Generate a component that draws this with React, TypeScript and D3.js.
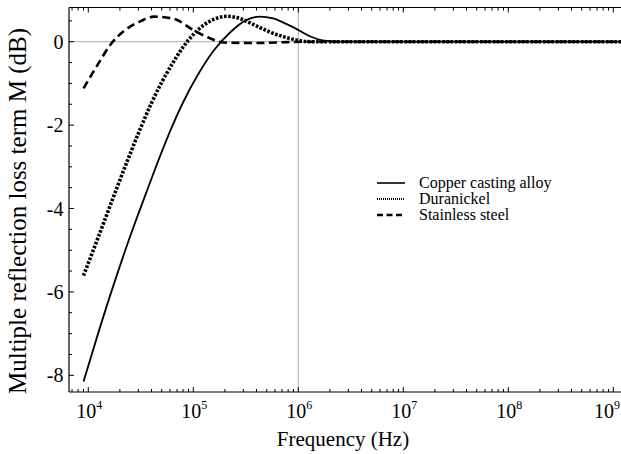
import { useEffect, useRef } from "react";
import * as d3 from "d3";

// frequencies in Hz, loss term in dB
const copperFreq = [9.0e3, 1.26e4, 1.78e4, 2.51e4, 3.55e4, 4.47e4, 6.03e4, 7.94e4, 1.12e5, 1.58e5, 2.24e5, 3.16e5, 4.27e5, 5.75e5, 7.76e5, 1.0e6, 1.29e6, 1.7e6, 2.5e6, 1.2e9];
const copperDb = [-8.15, -6.94, -5.76, -4.66, -3.63, -2.96, -2.14, -1.47, -0.77, -0.2, 0.22, 0.51, 0.6, 0.56, 0.42, 0.28, 0.13, 0.03, 0, 0];

const duraFreq = [9.0e3, 1.26e4, 1.78e4, 2.51e4, 3.16e4, 3.98e4, 5.01e4, 6.31e4, 7.94e4, 1.0e5, 1.26e5, 1.58e5, 2.09e5, 2.82e5, 3.55e5, 4.47e5, 5.62e5, 7.24e5, 9.55e5, 1.32e6, 1.2e9];
const duraDb = [-5.61, -4.65, -3.65, -2.68, -2.06, -1.48, -0.97, -0.53, -0.14, 0.17, 0.4, 0.54, 0.61, 0.55, 0.44, 0.32, 0.21, 0.12, 0.04, 0, 0];

const steelFreq = [9.0e3, 1.25e4, 1.65e4, 2.25e4, 3.2e4, 4.2e4, 6.5e4, 1.0e5, 1.45e5, 1.95e5, 4.0e5, 8.0e5, 1.2e6, 1.2e9];
const steelDb = [-1.12, -0.52, -0.05, 0.28, 0.5, 0.6, 0.55, 0.28, 0.08, -0.02, -0.03, -0.01, 0, 0];

const seriesNames = ["Copper casting alloy", "Duranickel", "Stainless steel"];
const yTickLabels = [0, -2, -4, -6, -8];
const xDecades = [4, 5, 6, 7, 8, 9];

const font = "Liberation Serif, Times New Roman, DejaVu Serif, serif";

const App = () => {
  const svgRef = useRef<SVGSVGElement>(null);

  useEffect(() => {
    const svg = d3.select(svgRef.current);
    svg.selectAll("*").remove();

    const left = 69, right = 621, top = 7.5, bottom = 392;

    const x = d3.scaleLog().domain([Math.pow(10, 3.8162), Math.pow(10, 9.0733)]).range([left, right]);
    const y = d3.scaleLinear().domain([-8.4, 0.82]).range([bottom, top]);

    svg.append("rect").attr("width", 621).attr("height", 454).attr("fill", "#fff");

    svg.append("clipPath").attr("id", "plot-clip")
      .append("rect").attr("x", left).attr("y", top).attr("width", right - left).attr("height", bottom - top);

    // grid lines at 0 dB and 1 MHz
    svg.append("line")
      .attr("x1", left).attr("x2", right).attr("y1", y(0)).attr("y2", y(0))
      .attr("stroke", "#aaa").attr("stroke-width", 1);
    svg.append("line")
      .attr("x1", x(1e6)).attr("x2", x(1e6)).attr("y1", top).attr("y2", bottom)
      .attr("stroke", "#aaa").attr("stroke-width", 1);

    const line = d3.line<[number, number]>()
      .x((d) => x(d[0]))
      .y((d) => y(d[1]))
      .curve(d3.curveMonotoneX);

    const series = [
      { f: copperFreq, v: copperDb, width: 1.8, dash: null },
      { f: steelFreq, v: steelDb, width: 2.6, dash: "8,4.5" },
      { f: duraFreq, v: duraDb, width: 3.6, dash: "2.6,1.6" },
    ];

    const g = svg.append("g").attr("clip-path", "url(#plot-clip)");
    series.forEach((s) => {
      const pts = s.f.map((f, i) => [f, s.v[i]] as [number, number]);
      g.append("path")
        .attr("d", line(pts))
        .attr("fill", "none")
        .attr("stroke", "#000")
        .attr("stroke-width", s.width)
        .attr("stroke-dasharray", s.dash);
    });

    // frame
    const axisColor = "#000";
    svg.append("line").attr("x1", left).attr("x2", left).attr("y1", top).attr("y2", bottom)
      .attr("stroke", axisColor).attr("stroke-width", 1.2);
    svg.append("line").attr("x1", left).attr("x2", right).attr("y1", bottom).attr("y2", bottom)
      .attr("stroke", axisColor).attr("stroke-width", 1.2);
    svg.append("line").attr("x1", left).attr("x2", right).attr("y1", top).attr("y2", top)
      .attr("stroke", axisColor).attr("stroke-width", 1.2);

    // x ticks (log minor ticks), inward on bottom and top
    const xt = x.ticks();
    const isMajor = (v: number) => Math.abs(Math.log10(v) - Math.round(Math.log10(v))) < 1e-6;
    xt.forEach((v) => {
      const len = isMajor(v) ? 5 : 3;
      svg.append("line").attr("x1", x(v)).attr("x2", x(v)).attr("y1", bottom).attr("y2", bottom - len)
        .attr("stroke", axisColor).attr("stroke-width", 1);
      svg.append("line").attr("x1", x(v)).attr("x2", x(v)).attr("y1", top).attr("y2", top + len)
        .attr("stroke", axisColor).attr("stroke-width", 1);
    });

    // y ticks every 0.5 dB, inward
    y.ticks(20).forEach((v) => {
      const len = Number.isInteger(v) && v % 2 === 0 ? 5 : 3;
      svg.append("line").attr("x1", left).attr("x2", left + len).attr("y1", y(v)).attr("y2", y(v))
        .attr("stroke", axisColor).attr("stroke-width", 1);
    });

    // y tick labels
    svg.append("g").selectAll("text").data(yTickLabels).enter().append("text")
      .attr("x", left - 5.5)
      .attr("y", (d) => y(d) + 7)
      .attr("text-anchor", "end")
      .attr("font-family", font)
      .attr("font-size", 20)
      .text((d) => d);

    // x tick labels 10^n (last one kept inside the picture)
    const lastDecade = xDecades[xDecades.length - 1];
    const xl = svg.append("g").selectAll("text").data(xDecades).enter().append("text")
      .attr("x", (d) => (d === lastDecade ? 620 : x(Math.pow(10, d)) + 1))
      .attr("y", 418)
      .attr("text-anchor", (d) => (d === lastDecade ? "end" : "middle"))
      .attr("font-family", font)
      .attr("font-size", 20);
    xl.append("tspan").text("10");
    xl.append("tspan").attr("dy", -9.5).attr("font-size", 12).text((d) => d);

    // axis titles
    svg.append("text")
      .attr("x", 343).attr("y", 446)
      .attr("text-anchor", "middle")
      .attr("font-family", font).attr("font-size", 21)
      .text("Frequency (Hz)");
    svg.append("text")
      .attr("transform", "translate(26,211) rotate(-90)")
      .attr("text-anchor", "middle")
      .attr("font-family", font).attr("font-size", 25)
      .text("Multiple reflection loss term M (dB)");

    // legend
    const legendStyles = [
      { width: 1.6, dash: null },
      { width: 2.2, dash: "1,1" },
      { width: 2.4, dash: "6,3.5" },
    ];
    const lg = svg.append("g");
    seriesNames.forEach((name, i) => {
      const ly = 183 + i * 16;
      lg.append("line").attr("x1", 377).attr("x2", 405).attr("y1", ly).attr("y2", ly)
        .attr("stroke", "#000").attr("stroke-width", legendStyles[i].width)
        .attr("stroke-dasharray", legendStyles[i].dash);
      lg.append("text").attr("x", 419).attr("y", ly + 5)
        .attr("font-family", font).attr("font-size", 16)
        .text(name);
    });
  }, []);

  return (
    <svg
      ref={svgRef}
      width={621}
      height={454}
      style={{ position: "absolute", left: 0, top: 0 }}
    />
  );
};

export default App;
